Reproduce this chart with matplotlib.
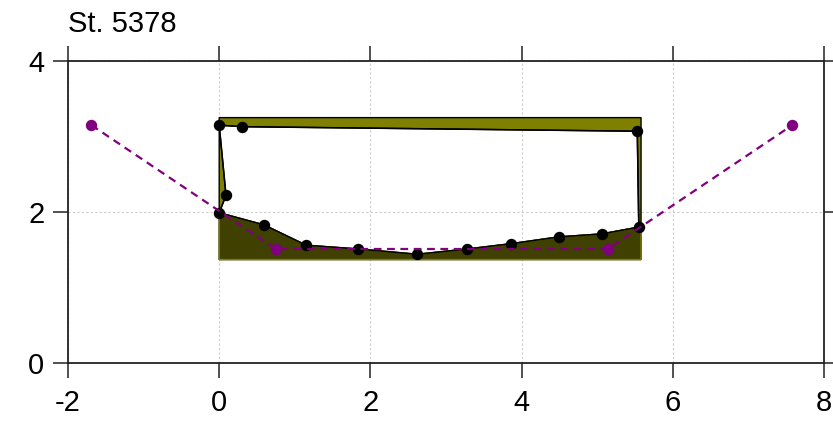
import numpy as np
import matplotlib.pyplot as plt
from matplotlib.path import Path
from matplotlib.patches import PathPatch, Polygon

plt.rcParams['font.family'] = ['Liberation Sans', 'DejaVu Sans']

# measured cross section (closed loop: top left->right, bottom right->left, left side up)
section_x = [0.0, 0.30, 5.53, 5.55, 5.06, 4.49, 3.86, 3.28, 2.62, 1.84, 1.15, 0.59, 0.0, 0.09]
section_y = [3.15, 3.13, 3.07, 1.80, 1.71, 1.67, 1.58, 1.51, 1.44, 1.51, 1.56, 1.83, 1.99, 2.22]

# structure frame
frame_x = [0.0, 5.58]
frame_y = [1.37, 3.25]

# design profile
design_x = [-1.69, 0.75, 5.14, 7.58]
design_y = [3.15, 1.51, 1.51, 3.15]

x_ticks = [-2, 0, 2, 4, 6, 8]
y_ticks = [0, 2, 4]
title = "St. 5378"


def signed_area(xs, ys):
    xs, ys = np.asarray(xs), np.asarray(ys)
    return 0.5 * np.sum(xs * np.roll(ys, -1) - np.roll(xs, -1) * ys)


def main():
    fig = plt.figure(figsize=(8.33, 4.22), dpi=100)
    ax = fig.add_axes([68 / 833, 59 / 422, 756 / 833, 302 / 422])

    # olive frame with the section cut out as a hole
    x0, x1 = frame_x
    y0, y1 = frame_y
    outer = [(x0, y0), (x1, y0), (x1, y1), (x0, y1), (x0, y0)]
    inner = list(zip(section_x, section_y))
    if signed_area(section_x, section_y) > 0:
        inner = inner[::-1]
    inner = inner + [inner[0]]
    verts = outer + inner
    codes = ([Path.MOVETO] + [Path.LINETO] * 3 + [Path.CLOSEPOLY]
             + [Path.MOVETO] + [Path.LINETO] * (len(inner) - 2) + [Path.CLOSEPOLY])
    ax.add_patch(PathPatch(Path(verts, codes), facecolor='#808000',
                           edgecolor='black', lw=1.0, zorder=2))

    # bed below the section bottom
    bed_x = section_x[3:13] + [x0, x1, x1]
    bed_y = section_y[3:13] + [y0, y0, section_y[3]]
    ax.add_patch(Polygon(list(zip(bed_x, bed_y)), closed=True,
                         facecolor='#404000', edgecolor='#808000', lw=1.0, zorder=3))

    # section line and points
    ax.plot(section_x + [section_x[0]], section_y + [section_y[0]],
            color='black', lw=1.1, zorder=4)
    ax.plot(section_x, section_y, 'o', color='black', ms=7.2, zorder=5)

    # design profile
    ax.plot(design_x, design_y, color='#800080', lw=1.6, ls=(0, (3.5, 2.5)),
            marker='o', ms=7.2, zorder=6)

    ax.set_xlim(-2, 8)
    ax.set_ylim(0, 4)
    ax.set_xticks(x_ticks)
    ax.set_yticks(y_ticks)
    ax.set_xticklabels([str(t) for t in x_ticks])
    ax.set_yticklabels([str(t) for t in y_ticks])
    ax.grid(True, color='#cccccc', lw=0.8, ls=(0, (2, 2)), zorder=0)
    ax.set_axisbelow(True)

    ax.tick_params(axis='both', which='both', direction='out', length=11, width=1.1,
                   labelsize=21, top=True, right=True, color='#222222')
    ax.tick_params(axis='x', pad=8)
    ax.tick_params(axis='y', pad=6)
    for sp in ax.spines.values():
        sp.set_linewidth(1.3)
        sp.set_color('#222222')

    ax.set_title(title, loc='left', fontsize=21, pad=21, x=0.0)

    fig.savefig('out.png', dpi=100)


if __name__ == "__main__":
    main()
